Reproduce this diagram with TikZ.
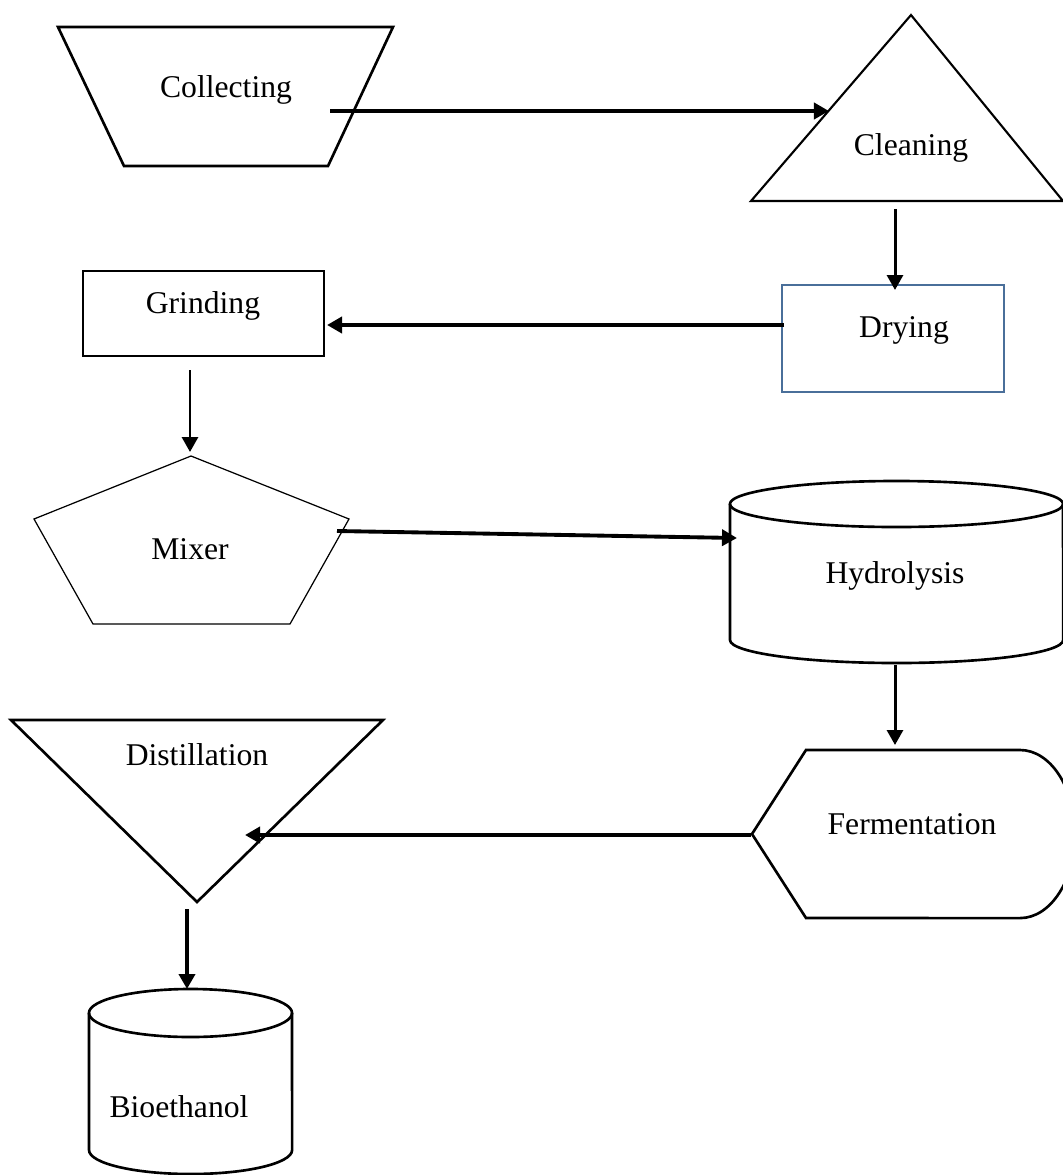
\documentclass[tikz,border=0pt]{standalone}
\usepackage{fontspec}
\setmainfont{Liberation Serif}
\usetikzlibrary{arrows.meta,calc}
\definecolor{dryblue}{HTML}{4A6F9A}
\tikzset{
    px/.style={x=0.01cm,y=-0.01cm},
    outline/.style={draw,line width=0.75pt,line join=miter},
    thinline/.style={draw,line width=0.35pt,line join=miter},
    flow/.style={draw,-{Triangle[length=1.5mm,width=1.6mm]},line width=1.1pt},
    flowthin/.style={flow,line width=0.85pt},
    lbl/.style={font=\fontsize{9}{11}\selectfont,anchor=base,inner sep=0pt},
}

\begin{document}
\begin{tikzpicture}[px]
    \useasboundingbox (0,0) rectangle (1063,1175);

    % stages
    \draw[outline] (58,27) -- (393,27) -- (328,166) -- (124,166) -- cycle;
    \node[lbl] (collecting) at (226,97) {Collecting};
    \draw[outline,line width=0.6pt] (911,15) -- (1063,201) -- (751,201) -- cycle;
    \node[lbl] (cleaning) at (911,155) {Cleaning};
    \draw[outline,draw=dryblue,line width=0.6pt] (782,285) rectangle (1004,392);
    \node[lbl] (drying) at (904,337) {Drying};
    \draw[outline] (83,271) rectangle (324,356);
    \node[lbl] (grinding) at (203,313) {Grinding};
    \draw[thinline] (191,456) -- (349,519) -- (290,624) -- (93,624) -- (34,519) -- cycle;
    \node[lbl] (mixer) at (190,559) {Mixer};
    \draw[outline] (896.5,504) ellipse [x radius=1.665cm,y radius=0.23cm];
    \draw[outline] (730,504) -- (730,640) arc [start angle=180,end angle=360,x radius=1.665cm,y radius=0.23cm] -- (1063,504);
    \node[lbl] (hydrolysis) at (895,583) {Hydrolysis};
    \draw[outline] (752,834) -- (806,750) -- (1020,750) arc [start angle=90,end angle=-90,x radius=0.55cm,y radius=0.84cm] -- (806,918) -- cycle;
    \node[lbl] (fermentation) at (912,834) {Fermentation};
    \draw[outline] (11,720) -- (383,720) -- (197,902) -- cycle;
    \node[lbl] (distillation) at (197,765) {Distillation};
    \draw[outline] (190.5,1013) ellipse [x radius=1.015cm,y radius=0.24cm];
    \draw[outline] (89,1013) -- (89,1150) arc [start angle=180,end angle=360,x radius=1.015cm,y radius=0.24cm] -- (292,1013);
    \node[lbl] (bioethanol) at (179,1117) {Bioethanol};

    % arrow ends
    \coordinate (collecting-out) at (330,111);
    \coordinate (cleaning-in) at (829,111);
    \coordinate (cleaning-out) at (895,209);
    \coordinate (drying-in) at (895,290);
    \coordinate (drying-out) at (784,325);
    \coordinate (grinding-in) at (327,325);
    \coordinate (grinding-out) at (190,370);
    \coordinate (mixer-in) at (190,452);
    \coordinate (mixer-out) at (337,531);
    \coordinate (hydrolysis-in) at (737,538);
    \coordinate (hydrolysis-out) at (895,665);
    \coordinate (fermentation-in) at (895,745);
    \coordinate (fermentation-out) at (751,835);
    \coordinate (distillation-in) at (245,835);
    \coordinate (distillation-out) at (187,909);
    \coordinate (bioethanol-in) at (187,989);

    \draw[flow] (collecting-out) -- (cleaning-in);
    \draw[flowthin] (cleaning-out) -- (drying-in);
    \draw[flow] (drying-out) -- (grinding-in);
    \draw[flowthin] (grinding-out) -- (mixer-in);
    \draw[flow] (mixer-out) -- (hydrolysis-in);
    \draw[flowthin] (hydrolysis-out) -- (fermentation-in);
    \draw[flow] (fermentation-out) -- (distillation-in);
    \draw[flow] (distillation-out) -- (bioethanol-in);
\end{tikzpicture}
\end{document}
